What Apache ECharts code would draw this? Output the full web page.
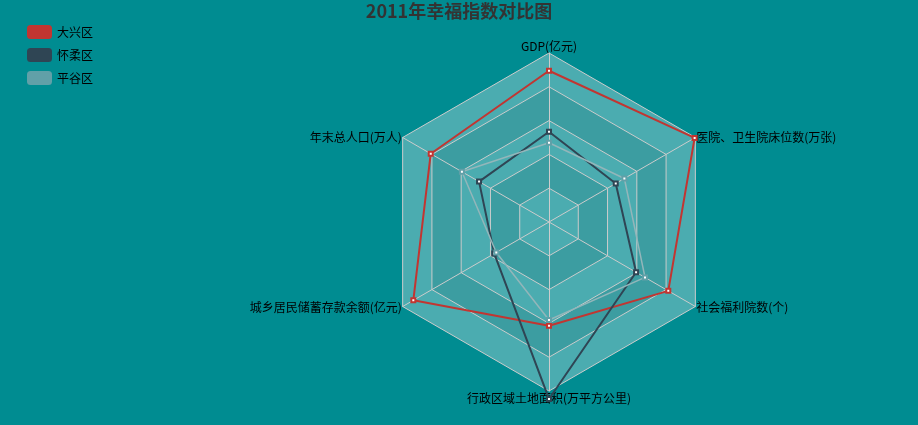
<!DOCTYPE html>
<html><head><meta charset="utf-8">
<script src="https://cdn.jsdelivr.net/npm/echarts@6/dist/echarts.min.js"></script>
<style>html,body{margin:0;padding:0;background:#008c91;}#c{width:918px;height:425px;}</style>
</head><body><div id="c"></div>
<script>
var titleText = '2011年幸福指数对比图';
var indicators = ['GDP(亿元)', '年末总人口(万人)', '城乡居民储蓄存款余额(亿元)', '行政区域土地面积(万平方公里)', '社会福利院数(个)', '医院、卫生院床位数(万张)'];
var indicatorMax = [100, 100, 100, 100, 100, 100];
var seriesNames = ['大兴区', '怀柔区', '平谷区'];
var daxing = [89.5, 80.8, 92.7, 61.4, 81.5, 99.5];
var huairou = [53.4, 47.8, 37.4, 104.7, 59.5, 45.6];
var pinggu = [46.9, 59.5, 36.0, 58.0, 65.6, 51.5];
var colors = ['#c23531', '#2f4554', '#61a0a8'];
var lineColors = ['#c23531', '#2f4554', '#93b6ba'];

var chart = echarts.init(document.getElementById('c'));
var font = '"Noto Sans CJK SC", sans-serif';
chart.setOption({
  backgroundColor: '#008c91',
  color: colors,
  animation: false,
  title: {
    text: titleText, left: 'center', top: 2, padding: [0, 5],
    textStyle: { fontSize: 18, fontWeight: 'bold', color: '#333', fontFamily: font }
  },
  legend: {
    data: seriesNames, orient: 'vertical', left: 22, top: 20, itemGap: 9,
    itemWidth: 25, itemHeight: 14, icon: 'roundRect',
    textStyle: { fontSize: 12, color: '#000', fontFamily: font }
  },
  radar: {
    center: [549, 222], radius: 169, splitNumber: 5, shape: 'polygon',
    nameGap: 1,
    indicator: indicators.map(function (n, i) { return { name: n, max: indicatorMax[i], min: 0 }; }),
    axisName: { color: '#000', fontSize: 12, fontFamily: font },
    axisLine: { lineStyle: { color: '#ccc' } },
    splitLine: { lineStyle: { color: '#ccc' } },
    splitArea: { areaStyle: { color: ['rgba(250,250,250,0.3)', 'rgba(200,200,200,0.3)'] } }
  },
  series: [{
    type: 'radar',
    symbol: 'emptyRect', symbolSize: 4,
    itemStyle: { borderWidth: 1 },
    data: [
      { name: seriesNames[0], value: daxing, lineStyle: { width: 2, color: lineColors[0] } },
      { name: seriesNames[1], value: huairou, lineStyle: { width: 2, color: lineColors[1] } },
      { name: seriesNames[2], value: pinggu, lineStyle: { width: 1.5, color: lineColors[2] } }
    ]
  }]
});
</script></body></html>
